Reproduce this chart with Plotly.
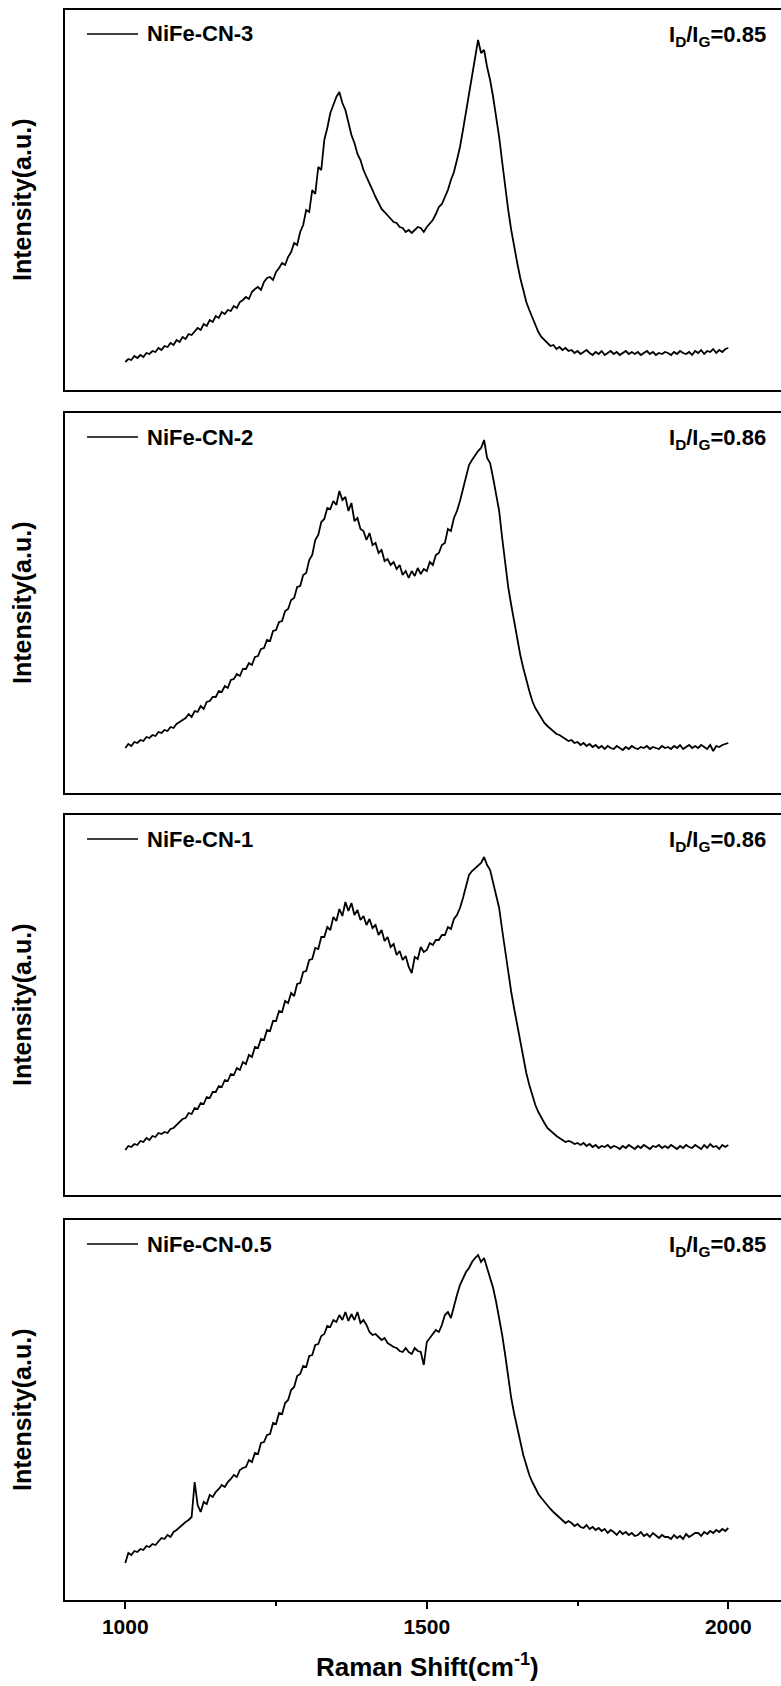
import plotly.graph_objects as go

# Raman shift grid, 1000..2000 cm-1 every 5 cm-1
raman_start = 1000
raman_step = 5

sample_names = ["NiFe-CN-3", "NiFe-CN-2", "NiFe-CN-1", "NiFe-CN-0.5"]
id_ig_ratios = ["0.85", "0.86", "0.86", "0.85"]

intensity_cn3 = [
    28, 31, 30, 34, 32, 35, 33, 37, 36, 39,
    38, 42, 40, 44, 43, 47, 45, 50, 48, 53,
    51, 56, 55, 59, 62, 60, 66, 64, 70, 68,
    74, 72, 78, 76, 80, 79, 84, 82, 88, 90,
    93, 91, 98, 101, 103, 100, 108, 112, 113, 110,
    118, 122, 127, 125, 133, 138, 147, 145, 158, 165,
    180, 178, 200, 196, 223, 220, 250, 262, 277, 285,
    293, 298, 287, 280, 267, 255, 247, 236, 230, 220,
    213, 207, 200, 193, 187, 181, 178, 175, 172, 168,
    167, 163, 162, 158, 160, 157, 160, 163, 162, 158,
    163, 167, 170, 176, 183, 186, 193, 200, 210, 218,
    230, 243, 260, 278, 297, 315, 330, 350, 337, 340,
    323, 310, 293, 275, 253, 228, 203, 180, 160, 142,
    127, 112, 100, 88, 80, 72, 65, 58, 53, 50,
    47, 44, 45, 41, 43, 40, 42, 39, 40, 37,
    39, 36, 38, 40, 37, 35, 38, 36, 39, 35,
    37, 39, 36, 38, 35, 37, 39, 36, 38, 36,
    38, 35, 37, 39, 36, 38, 35, 37, 36, 38,
    37, 35, 38, 36, 39, 37, 36, 38, 35, 39,
    37, 40, 36, 39, 38, 41, 37, 40, 38, 41,
    42,
]

intensity_cn2 = [
    45, 49, 47, 51, 50, 53, 52, 56, 55, 58,
    57, 61, 60, 63, 62, 66, 65, 69, 71, 73,
    75, 79, 76, 82, 81, 87, 84, 91, 92, 96,
    96, 102, 101, 107, 105, 113, 114, 119, 117, 124,
    124, 130, 128, 136, 137, 144, 145, 153, 152, 162,
    163, 171, 172, 182, 184, 193, 195, 206, 207, 218,
    220, 233, 238, 253, 258, 271, 274, 285, 284, 292,
    288, 302, 293, 296, 282, 290, 272, 275, 264, 262,
    253, 260, 248, 250, 240, 243, 232, 234, 228, 231,
    224, 228, 218, 222, 215, 222, 217, 225, 219, 224,
    222, 231, 228, 238, 240, 248, 250, 264, 262, 275,
    282, 292, 305, 318, 328, 333, 338, 342, 345, 353,
    335, 330, 315, 300, 282, 255, 228, 206, 188, 170,
    155, 138, 125, 112, 102, 92, 85, 80, 75, 70,
    67, 64, 62, 59, 58, 56, 54, 52, 53, 50,
    51, 48, 50, 47, 49, 46, 48, 45, 47, 44,
    47, 45, 44, 47, 45, 43, 46, 44, 47, 45,
    44, 46, 45, 47, 44, 46, 45, 44, 47, 45,
    46, 44, 47, 45, 48, 44, 46, 48, 45, 47,
    45, 48, 46, 44, 48, 42, 47, 46, 48, 49,
    50,
]

intensity_cn1 = [
    45, 49, 48, 51, 50, 54, 53, 57, 55, 59,
    58, 62, 61, 63, 62, 66, 67, 70, 73, 76,
    77, 82, 81, 87, 86, 92, 91, 98, 97, 103,
    103, 109, 108, 115, 114, 121, 120, 127, 125, 133,
    131, 140, 138, 148, 147, 156, 155, 165, 164, 174,
    174, 184, 183, 194, 192, 202, 199, 211, 212, 223,
    224, 235, 236, 247, 246, 258, 258, 268, 265, 278,
    274, 286, 279, 293, 284, 292, 280, 285, 275, 279,
    270, 276, 267, 270, 260, 265, 254, 258, 248, 251,
    240, 244, 235, 239, 228, 222, 238, 236, 248, 243,
    245, 252, 250, 255, 255, 260, 260, 268, 266, 276,
    280, 287, 297, 310, 320, 324, 327, 330, 332, 338,
    330, 325, 313, 302, 287, 265, 243, 222, 203, 186,
    170, 153, 137, 122, 110, 100, 90, 83, 77, 72,
    67, 64, 62, 59, 57, 55, 53, 54, 53, 51,
    52, 50, 52, 49, 51, 48, 50, 47, 49, 48,
    50, 47, 49, 48, 46, 49, 47, 50, 48, 46,
    49, 47, 50, 48, 46, 49, 48, 50, 47, 49,
    47, 50, 48, 46, 49, 47, 50, 48, 47, 50,
    48, 46, 50, 47, 51, 48, 49, 46, 50, 48,
    50,
]

intensity_cn05 = [
    37, 47, 45, 49, 48, 51, 50, 54, 53, 56,
    55, 59, 62, 61, 65, 63, 68, 70, 73, 75,
    78, 80, 83, 118, 95, 88, 98, 96, 105, 103,
    108, 111, 115, 113, 118, 121, 125, 123, 130, 132,
    133, 140, 138, 147, 146, 157, 158, 165, 166, 177,
    176, 187, 186, 197, 200, 210, 213, 224, 226, 234,
    233, 244, 245, 255, 256, 264, 266, 274, 273, 280,
    278, 285, 280, 288, 279, 286, 280, 288, 277, 280,
    275, 268, 265, 266, 263, 260, 262, 257, 255, 253,
    252, 249, 248, 252, 248, 246, 252, 249, 248, 235,
    258, 262, 265, 270, 268, 275, 285, 288, 282, 295,
    305, 315, 322, 328, 332, 338, 342, 345, 338, 342,
    332, 322, 312, 298, 282, 265, 245, 222, 202, 186,
    172, 158, 145, 135, 125, 118, 112, 106, 102, 98,
    95, 91, 88, 85, 82, 80, 77, 79, 77, 74,
    76, 73, 72, 75, 71, 73, 70, 72, 69, 71,
    67, 70, 68, 65, 69, 66, 68, 65, 67, 64,
    65, 68, 64, 66, 63, 67, 64, 62, 65, 63,
    63, 61, 65, 62, 64, 61, 66, 63, 65, 67,
    67, 64, 68, 66, 69, 67, 70, 68, 71, 69,
    72,
]

tick_values = [1000, 1500, 2000]
tick_labels = ["1000", "1500", "2000"]
minor_tick_values = [1250, 1750]

series = [intensity_cn3, intensity_cn2, intensity_cn1, intensity_cn05]
raman_shift = [raman_start + raman_step * i for i in range(len(intensity_cn3))]

FONT = "Liberation Sans, Arial, sans-serif"
W, H = 781, 1686
ML, MR, MT, MB = 65, 0, 10, 86
plot_w = W - ML - MR
plot_h = H - MT - MB
px_per_unit = 0.603
x_range = [900, 900 + plot_w / px_per_unit]

# panel top/bottom pixel rows (figure coordinates)
panel_px = [(10, 390), (413, 793), (815, 1195), (1220, 1600)]

fig = go.Figure()
layout = dict(
    width=W, height=H,
    margin=dict(l=ML, r=MR, t=MT, b=MB),
    paper_bgcolor="white", plot_bgcolor="white",
    showlegend=False,
    font=dict(family=FONT, color="black"),
    annotations=[], shapes=[],
)

for i, (vals, name, ratio) in enumerate(zip(series, sample_names, id_ig_ratios)):
    k = i + 1
    xa = "x" if k == 1 else f"x{k}"
    ya = "y" if k == 1 else f"y{k}"
    fig.add_trace(go.Scatter(x=raman_shift, y=vals, mode="lines",
                             line=dict(color="black", width=1.8),
                             xaxis=xa, yaxis=ya, name=name))
    top, bot = panel_px[i]
    d0 = (H - MB - bot) / plot_h
    d1 = (H - MB - top) / plot_h
    last = (k == 4)
    xa_cfg = dict(
        domain=[0, 1], anchor=ya, range=x_range,
        showline=True, linecolor="black", linewidth=2, mirror=True,
        showgrid=False, zeroline=False,
        ticks="outside" if last else "", ticklen=7, tickwidth=1.5, tickcolor="black",
        tickvals=tick_values if last else [], ticktext=tick_labels if last else [],
        showticklabels=last,
        tickfont=dict(family=FONT, size=21, color="black", weight="bold"),
    )
    if last:
        xa_cfg["minor"] = dict(tickvals=minor_tick_values, ticks="outside",
                               ticklen=4, tickwidth=1.5, tickcolor="black")
    ya_cfg = dict(
        domain=[d0, d1], anchor=xa, range=[0, 380],
        showline=True, linecolor="black", linewidth=2, mirror=False,
        showgrid=False, zeroline=False, ticks="", showticklabels=False,
    )
    layout["xaxis" if k == 1 else f"xaxis{k}"] = xa_cfg
    layout["yaxis" if k == 1 else f"yaxis{k}"] = ya_cfg

    xd = f"{xa} domain"
    yd = f"{ya} domain"
    ly = 1 - 24 / 380
    layout["shapes"].append(dict(type="line", xref=xd, yref=yd,
                                 x0=(87 - ML) / plot_w, x1=(138 - ML) / plot_w,
                                 y0=ly, y1=ly, line=dict(color="black", width=1.5)))
    layout["annotations"].append(dict(
        xref=xd, yref=yd, x=(145 - ML) / plot_w, y=ly, xanchor="left", yanchor="middle",
        text=f"<b>{name}</b>", showarrow=False,
        font=dict(family=FONT, size=22, color="black")))
    layout["annotations"].append(dict(
        xref=xd, yref=yd, x=(768 - ML) / plot_w, y=ly - 0.005, xanchor="right", yanchor="middle",
        text=f"<b>I<sub>D</sub>/I<sub>G</sub>={ratio}</b>", showarrow=False,
        font=dict(family=FONT, size=22, color="black")))
    layout["annotations"].append(dict(
        xref="paper", yref=yd, x=(22 - ML) / plot_w, y=0.5, xanchor="center", yanchor="middle",
        text="<b>Intensity(a.u.)</b>", textangle=-90, showarrow=False,
        font=dict(family=FONT, size=25, color="black")))

layout["annotations"].append(dict(
    xref="paper", yref="paper", x=(427 - ML) / plot_w, y=-(1665 - (H - MB)) / plot_h,
    xanchor="center", yanchor="middle",
    text="<b>Raman Shift(cm<sup>-1</sup>)</b>", showarrow=False,
    font=dict(family=FONT, size=26, color="black")))

fig.update_layout(**layout)
fig.write_html("out.html",
               config={"displayModeBar": False},
               post_script="document.body.style.margin='0';document.body.style.overflow='hidden';")
